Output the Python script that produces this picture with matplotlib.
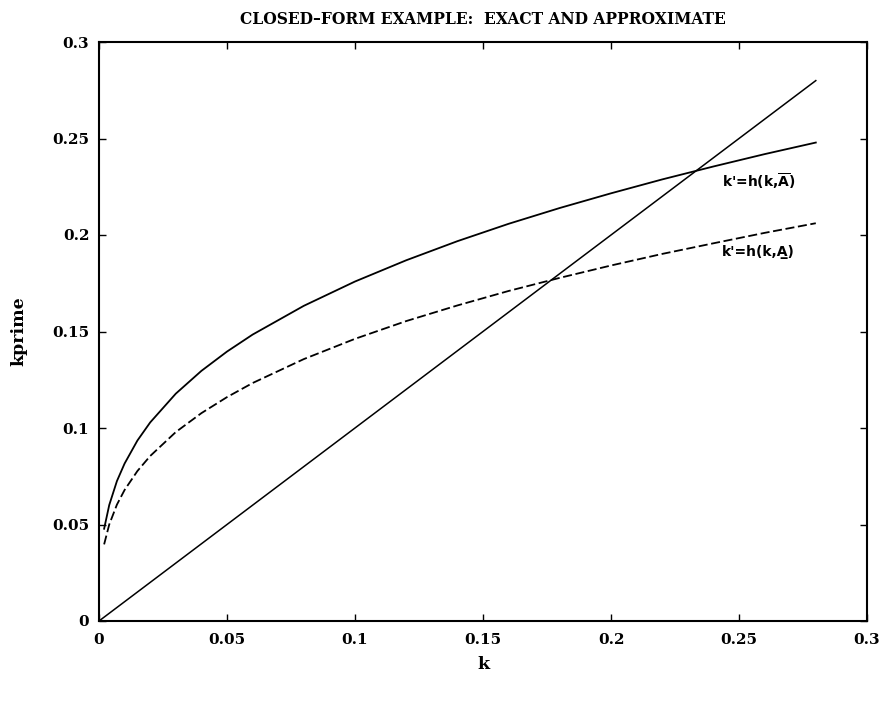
import matplotlib
matplotlib.use("Agg")
import matplotlib.pyplot as plt

# data
k_grid = [0.002, 0.004, 0.007, 0.01, 0.015, 0.02, 0.03, 0.04, 0.05, 0.06, 0.08,
          0.10, 0.12, 0.14, 0.16, 0.18, 0.20, 0.22, 0.24, 0.26, 0.28]
h_high = [0.0478, 0.0601, 0.0725, 0.0816, 0.0935, 0.1029, 0.1178, 0.1296, 0.1396,
          0.1484, 0.1633, 0.1759, 0.1869, 0.1968, 0.2058, 0.2140, 0.2216, 0.2288,
          0.2355, 0.2419, 0.2479]
h_low = [0.0397, 0.0500, 0.0603, 0.0679, 0.0777, 0.0855, 0.0979, 0.1077, 0.1160,
         0.1233, 0.1357, 0.1462, 0.1554, 0.1635, 0.1710, 0.1778, 0.1842, 0.1902,
         0.1957, 0.2011, 0.2061]
diag_k = [0.0, 0.28]
diag_v = [0.0, 0.28]
ticks = [0, 0.05, 0.1, 0.15, 0.2, 0.25, 0.3]
tick_labels = ["0", "0.05", "0.1", "0.15", "0.2", "0.25", "0.3"]
title = "CLOSED\u2013FORM EXAMPLE:  EXACT AND APPROXIMATE"
label_high = r"k'=h(k,$\overline{\mathbf{A}}$)"
label_low = "k'=h(k,A\u0332)"

plt.rcParams["mathtext.fontset"] = "dejavusans"

fig = plt.figure(figsize=(8.88, 7.04), dpi=100)
ax = fig.add_axes([99/888, 1-621/704, (867-99)/888, (621-42)/704])

ax.plot(diag_k, diag_v, color="black", lw=1.1)
ax.plot(k_grid, h_high, color="black", lw=1.3)
ax.plot(k_grid, h_low, color="black", lw=1.3, dashes=(5, 2))

ax.set_xlim(0, 0.3)
ax.set_ylim(0, 0.3)
ax.set_xticks(ticks)
ax.set_yticks(ticks)
serif = ["DejaVu Serif"]
ax.set_xticklabels(tick_labels, fontfamily=serif, fontweight="bold", fontsize=11)
ax.set_yticklabels(tick_labels, fontfamily=serif, fontweight="bold", fontsize=11)
ax.tick_params(direction="in", length=5, width=1, top=True, right=True)
ax.tick_params(axis="x", pad=9)
ax.tick_params(axis="y", pad=7)
for s in ax.spines.values():
    s.set_linewidth(1.5)

ax.set_title(title, fontfamily=serif, fontweight="bold", fontsize=11.2, pad=13)
ax.set_xlabel("k", fontfamily=serif, fontweight="bold", fontsize=12.5, labelpad=6)
ax.set_ylabel("kprime", fontfamily=serif, fontweight="bold", fontsize=12.5, labelpad=18)

ax.text(0.2435, 0.228, label_high, fontfamily="DejaVu Sans", fontweight="bold",
        fontsize=10, va="center", ha="left")
ax.text(0.2435, 0.191, label_low, fontfamily="DejaVu Sans", fontweight="bold",
        fontsize=10, va="center", ha="left")

fig.savefig("out.png", dpi=100)
